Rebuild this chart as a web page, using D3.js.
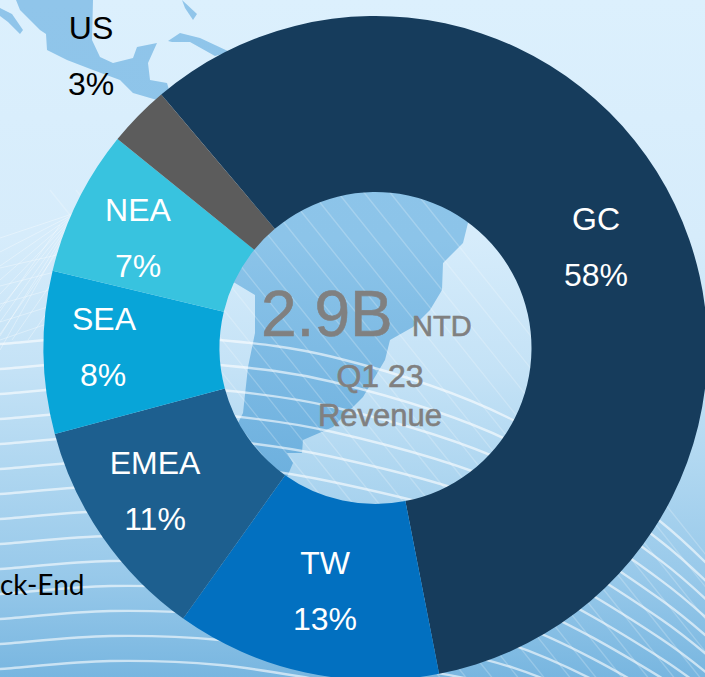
<!DOCTYPE html>
<html>
<head>
<meta charset="utf-8">
<script src="https://cdn.jsdelivr.net/npm/d3@7"></script>
<style>
html, body { margin: 0; padding: 0; background: #dceffc; }
svg { display: block; }
text { font-family: "Liberation Sans", Arial, sans-serif; }
</style>
</head>
<body>
<svg width="705" height="677"></svg>
<script>
const regions = ["GC", "TW", "EMEA", "SEA", "NEA", "US"];
const shares = [58.1, 12.9, 11, 7.9, 7.1, 3];
const sliceColors = ["#163c5c", "#0270c0", "#1d5f8f", "#08a5d8", "#38c3df", "#5c5c5c"];
const labelColors = ["#fff", "#fff", "#fff", "#fff", "#fff", "#000"];
const labelPositions = [[596, 219], [325, 563], [155, 463], [104, 319], [138, 210], [91, 28]];

const svg = d3.select("svg"),
	width = +svg.attr("width"),
	height = +svg.attr("height");

const cx = 375.5, cy = 348, outerR = 332, innerR = 156;

// background
const defs = svg.append("defs");
const bg = defs.append("linearGradient").attr("id", "bg").attr("x1", 0).attr("y1", 0).attr("x2", 0).attr("y2", 1);
[[0, "#dcf0fd"], [0.35, "#d6ecfb"], [0.55, "#c4e2f6"], [0.7, "#aed6f0"], [0.85, "#98c9ea"], [1, "#78b6e0"]].forEach(s =>
	bg.append("stop").attr("offset", s[0]).attr("stop-color", s[1]));
const land = defs.append("linearGradient").attr("id", "land").attr("gradientUnits", "userSpaceOnUse")
	.attr("x1", 0).attr("y1", 0).attr("x2", 0).attr("y2", 480);
[[0, "#90c5ea"], [0.5, "#8cc4e9"], [1, "#6db0de"]].forEach(s =>
	land.append("stop").attr("offset", s[0]).attr("stop-color", s[1]));

svg.append("rect").attr("width", width).attr("height", height).attr("fill", "url(#bg)");

// land outlines, traced by eye
const landShapes = [
	// mexico + central america
	[[16, 0], [93, 0], [92, 40], [100, 57], [113, 63], [133, 58], [137, 47], [157, 43], [148, 63], [150, 80], [167, 83], [172, 100], [157, 100], [133, 93], [120, 80], [93, 70], [67, 60], [47, 50], [46, 34], [40, 30], [20, 10]],
	// baja
	[[0, 8], [12, 14], [23, 30], [20, 34], [8, 22], [0, 16]],
	// florida
	[[182, 0], [197, 14], [193, 20], [185, 8]],
	// cuba
	[[168, 41], [180, 33], [200, 38], [230, 52], [215, 56], [190, 42], [172, 42]],
	// south america
	[[300, 120], [480, 170], [467, 227], [463, 243], [443, 263], [442, 290], [430, 310], [413, 327], [390, 340], [385, 360], [363, 397], [333, 427], [303, 440], [302, 453], [287, 453], [293, 463], [287, 477], [240, 440], [238, 423], [243, 413], [248, 367], [255, 333], [255, 295], [235, 283], [200, 270]]
];
const lineGen = d3.line().curve(d3.curveLinear);
svg.append("g").selectAll("path").data(landShapes).join("path")
	.attr("d", d => lineGen(d) + "Z")
	.attr("fill", "url(#land)");

// waves across the lower half
const waves = d3.range(0, 14).map(i => {
	const y0 = 337 + i * 25, f = 1 - i * 0.03;
	return [[-20, y0 + 8], [0, y0 + 7], [110, y0 - 1], [220, y0 + 3], [333, y0 + 20], [513, y0 + 83 * f], [661, y0 + 185 * f], [720, y0 + 240 * f]];
});
const curve = d3.line().curve(d3.curveCatmullRom);
svg.append("g").selectAll("path").data(waves).join("path")
	.attr("d", curve)
	.attr("fill", "none")
	.attr("stroke", "#fff")
	.attr("stroke-opacity", 0.6)
	.attr("stroke-width", 2.4);

// crossing strands, hole and lower right only
const strands = d3.range(50, 431, 26).map(x0 => [[x0, 190], [x0 + 400, 690]]);
svg.append("g").selectAll("path").data(strands).join("path")
	.attr("d", lineGen)
	.attr("stroke", "#fff")
	.attr("stroke-opacity", 0.22)
	.attr("stroke-width", 1.4);

// mesh on the left
const mesh = d3.range(0, 9).map(i => [[78, 212], [0, 238 + i * 14]])
	.concat(d3.range(0, 7).map(i => [[i * 16 - 20, 340], [i * 16 + 60, 225]]))
	.concat(d3.range(0, 5).map(i => [[0, 268 + i * 18], [70, 252 + i * 16]]));
svg.append("g").selectAll("path").data(mesh).join("path")
	.attr("d", lineGen)
	.attr("stroke", "#fff")
	.attr("stroke-opacity", 0.35)
	.attr("stroke-width", 1);

// donut
const pie = d3.pie().sort(null)
	.startAngle(-40.2 * Math.PI / 180)
	.endAngle((360 - 40.2) * Math.PI / 180);
const arc = d3.arc().innerRadius(innerR).outerRadius(outerR);

const slices = regions.map((r, i) => ({ region: r, share: shares[i], color: sliceColors[i] }));
const ring = svg.append("g").attr("transform", `translate(${cx},${cy})`);
ring.selectAll("path").data(pie.value(d => d.share)(slices)).join("path")
	.attr("d", arc)
	.attr("fill", d => d.data.color);

// labels
const labels = svg.append("g").attr("text-anchor", "middle").attr("font-size", 32);
regions.forEach((r, i) => {
	const p = labelPositions[i];
	labels.append("text").attr("x", p[0]).attr("y", p[1] + 11).attr("fill", labelColors[i]).text(r);
	labels.append("text").attr("x", p[0] - (r == "SEA" ? 1 : 0)).attr("y", p[1] + 67).attr("fill", labelColors[i]).text(Math.round(shares[i]) + "%");
});

// centre text
const centre = svg.append("g").attr("fill", "#808080").attr("stroke", "#808080").attr("stroke-width", 0.6);
centre.append("text").attr("x", 261).attr("y", 336).attr("font-size", 64).text("2.9B");
centre.append("text").attr("x", 412).attr("y", 336).attr("font-size", 29).text("NTD");
centre.append("text").attr("x", 380).attr("y", 387).attr("font-size", 32).attr("text-anchor", "middle").text("Q1 23");
centre.append("text").attr("x", 380).attr("y", 426).attr("font-size", 31).attr("text-anchor", "middle").text("Revenue");

// cut label from the slide behind
svg.append("text").attr("x", 0).attr("y", 595)
	.attr("font-size", 28).attr("fill", "#000")
	.style("font-family", "Lato, sans-serif").text("ck-End");
</script>
</body>
</html>
